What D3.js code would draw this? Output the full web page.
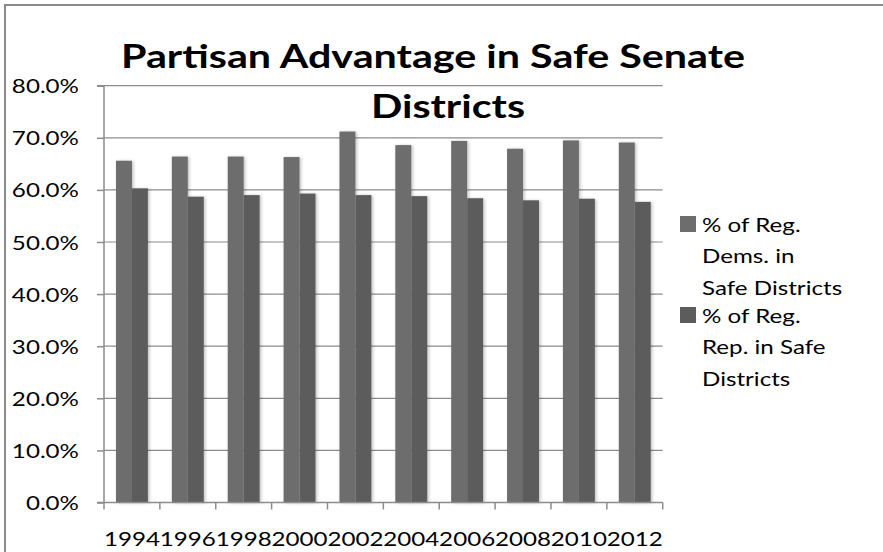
<!DOCTYPE html>
<html>
<head>
<meta charset="utf-8">
<script src="https://cdn.jsdelivr.net/npm/d3@7"></script>
<style>
  html, body { margin: 0; padding: 0; background: #fff; }
  svg { display: block; font-family: Lato, "Open Sans", sans-serif; }
</style>
</head>
<body>
<svg id="chart" width="883" height="552"></svg>
<script>
// Election years on the category axis
const years = ["1994", "1996", "1998", "2000", "2002", "2004", "2006", "2008", "2010", "2012"];
// Share of registered voters living in safe districts (percent)
const demShare = [65.6, 66.4, 66.4, 66.3, 71.2, 68.6, 69.4, 67.9, 69.5, 69.1];
const repShare = [60.3, 58.7, 59.0, 59.3, 59.0, 58.8, 58.4, 58.0, 58.3, 57.7];
const seriesNames = ["% of Reg. Dems. in Safe Districts", "% of Reg. Rep. in Safe Districts"];
const legendLines = [["% of Reg.", "Dems. in", "Safe Districts"], ["% of Reg.", "Rep. in Safe", "Districts"]];
const yTicks = [0, 10, 20, 30, 40, 50, 60, 70, 80];
const titleLines = ["Partisan Advantage in Safe Senate", "Districts"];

const colors = ["#6d6d6d", "#5c5c5c"];
const stretch = 1.24;      // wide letterforms for all chart text
const svg = d3.select("#chart");

// place a horizontally widened text label anchored at (x, y)
function label(parent, x, y, str, opts = {}) {
  const t = parent.append("text")
    .attr("transform", `translate(${x},${y}) scale(${opts.k || stretch},1)`)
    .attr("text-anchor", opts.anchor || "start")
    .attr("dominant-baseline", opts.baseline || "central")
    .attr("font-size", opts.size || 19.5)
    .attr("fill", "#000")
    .text(str);
  if (opts.bold) t.attr("font-weight", "bold");
  return t;
}

// outer chart frame (top and left edges visible)
svg.append("path")
  .attr("d", "M5,552 V5 H883")
  .attr("fill", "none").attr("stroke", "#8a8a8a").attr("stroke-width", 2);

const plot = { left: 104, right: 662.7, top: 85.7, bottom: 502.5 };

const x = d3.scaleBand().domain(years).range([plot.left, plot.right]).paddingInner(0).paddingOuter(0);
const barW = x.bandwidth() / 3.5;
const y = d3.scaleLinear().domain([0, 80]).range([plot.bottom, plot.top]);

const defs = svg.append("defs");
const f = defs.append("filter").attr("id", "shadow").attr("x", "-30%").attr("y", "-5%").attr("width", "160%").attr("height", "110%");
f.append("feDropShadow").attr("dx", 1.5).attr("dy", 0.5).attr("stdDeviation", 1.4)
  .attr("flood-color", "#000").attr("flood-opacity", 0.25);

// horizontal gridlines
svg.append("g").selectAll("line").data(yTicks.filter(d => d > 0)).join("line")
  .attr("x1", plot.left).attr("x2", plot.right)
  .attr("y1", d => y(d)).attr("y2", d => y(d))
  .attr("stroke", "#8c8c8c").attr("stroke-width", 1.2);

// bars
const series = [demShare, repShare];
const gBars = svg.append("g");
series.forEach((vals, si) => {
  gBars.append("g").selectAll("rect").data(vals).join("rect")
    .attr("x", (d, i) => x(years[i]) + barW * 0.75 + si * barW)
    .attr("y", d => y(d))
    .attr("width", barW)
    .attr("height", d => y(0) - y(d))
    .attr("fill", colors[si])
    .attr("filter", "url(#shadow)");
});

// y axis: line with outward ticks, labels drawn separately for widened text
const yAxis = d3.axisLeft(y).tickValues(yTicks).tickSize(7).tickFormat("");
const gy = svg.append("g").attr("transform", `translate(${plot.left},0)`).call(yAxis);
gy.select(".domain").attr("stroke", "#8c8c8c").attr("stroke-width", 1.5).attr("d", `M-7,${plot.top}H0V${plot.bottom}H-7`);
gy.selectAll(".tick line").attr("stroke", "#8c8c8c").attr("stroke-width", 1.5);
const yFmt = d => d3.format(".1f")(d) + "%";
yTicks.forEach(t => label(svg, 79, y(t), yFmt(t), { anchor: "end" }));

// x axis with ticks on category boundaries
const gx = svg.append("g").attr("transform", `translate(0,${plot.bottom})`);
gx.append("line").attr("x1", plot.left).attr("x2", plot.right).attr("stroke", "#8c8c8c").attr("stroke-width", 1.5);
const bounds = years.map(yr => x(yr)).concat([plot.right]);
gx.selectAll("line.tk").data(bounds).join("line").attr("class", "tk")
  .attr("x1", d => d).attr("x2", d => d).attr("y1", 0).attr("y2", 7)
  .attr("stroke", "#8c8c8c").attr("stroke-width", 1.5);
years.forEach(yr => label(gx, x(yr) + x.bandwidth() / 2, 36, yr, { anchor: "middle" }));

// title
label(svg, 433, 68, titleLines[0], { anchor: "middle", baseline: "auto", size: 32.5, bold: true, k: 1.27 });
label(svg, 448, 118, titleLines[1], { anchor: "middle", baseline: "auto", size: 32.5, bold: true, k: 1.27 });

// legend
const legend = svg.append("g");
const legendTop = [224, 315];
legendLines.forEach((lines, si) => {
  const g = legend.append("g");
  g.append("rect").attr("x", 680).attr("y", legendTop[si] - 8).attr("width", 16).attr("height", 16)
    .attr("fill", colors[si]);
  lines.forEach((ln, li) => label(g, 702, legendTop[si] + li * 31.7, ln));
});
</script>
</body>
</html>
